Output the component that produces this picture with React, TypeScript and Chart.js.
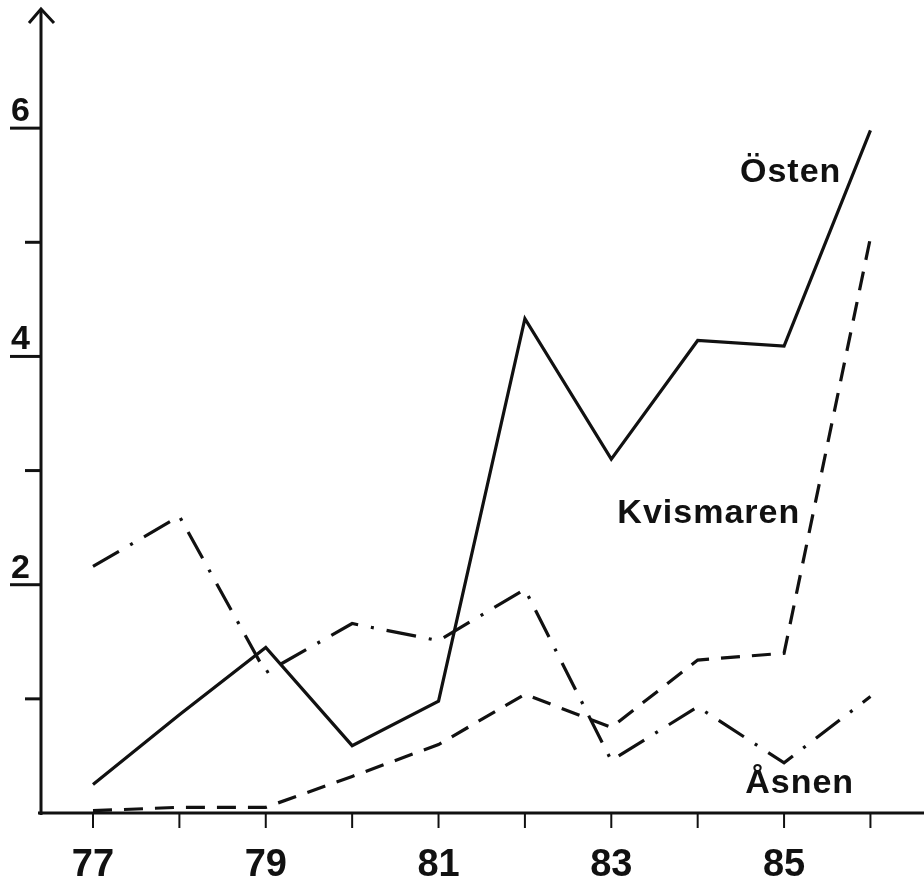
import { useEffect, useRef } from "react";
import { Chart, registerables } from "chart.js";

Chart.register(...registerables);

// ---- data ----
const years = [77, 78, 79, 80, 81, 82, 83, 84, 85, 86];
const osten = [0.25, 0.86, 1.45, 0.59, 0.98, 4.33, 3.1, 4.14, 4.09, 5.98];
const kvismaren = [0.02, 0.05, 0.05, 0.32, 0.6, 1.04, 0.75, 1.34, 1.4, 5.04];
const asnen = [2.16, 2.6, 1.23, 1.66, 1.51, 1.96, 0.46, 0.93, 0.44, 1.02];
const xTickLabels = [77, 79, 81, 83, 85];
const yMajorTicks = [2, 4, 6];
const yMinorTicks = [1, 3, 5];
const seriesNames = ["Östen", "Kvismaren", "Åsnen"];

const INK = "#111111";
const FONT = '"Liberation Sans", Arial, Helvetica, sans-serif';

const axesPlugin = {
  id: "handAxes",
  afterDraw(chart: any) {
    const { ctx, chartArea } = chart;
    const xs = chart.scales.x;
    const ys = chart.scales.y;
    const x0 = chartArea.left;
    const y0 = ys.getPixelForValue(0);
    ctx.save();
    ctx.strokeStyle = INK;
    ctx.fillStyle = INK;
    ctx.lineCap = "butt";

    // y axis with arrow
    ctx.lineWidth = 3;
    ctx.beginPath();
    ctx.moveTo(x0, y0 + 2);
    ctx.lineTo(x0, 9);
    ctx.stroke();
    ctx.beginPath();
    ctx.lineJoin = "miter";
    ctx.moveTo(x0 - 12, 23);
    ctx.lineTo(x0, 9);
    ctx.lineTo(x0 + 13, 23);
    ctx.stroke();

    // x axis
    ctx.beginPath();
    ctx.moveTo(x0 - 3, y0);
    ctx.lineTo(chartArea.right, y0);
    ctx.stroke();

    // x ticks
    ctx.lineWidth = 2;
    years.forEach((v) => {
      const px = xs.getPixelForValue(v);
      ctx.beginPath();
      ctx.moveTo(px, y0);
      ctx.lineTo(px, y0 + 15);
      ctx.stroke();
    });

    // x labels
    ctx.font = `bold 38px ${FONT}`;
    ctx.textAlign = "center";
    ctx.textBaseline = "alphabetic";
    xTickLabels.forEach((v) => {
      const px = xs.getPixelForValue(v);
      ctx.fillText(String(v), px, y0 + 63);
    });

    // y ticks
    ctx.lineWidth = 3;
    yMajorTicks.forEach((v) => {
      const py = ys.getPixelForValue(v);
      ctx.beginPath();
      ctx.moveTo(x0 - 31, py);
      ctx.lineTo(x0, py);
      ctx.stroke();
    });
    yMinorTicks.forEach((v) => {
      const py = ys.getPixelForValue(v);
      ctx.beginPath();
      ctx.moveTo(x0 - 16, py);
      ctx.lineTo(x0, py);
      ctx.stroke();
    });
    ctx.font = `bold 34px ${FONT}`;
    ctx.textAlign = "left";
    yMajorTicks.forEach((v) => {
      const py = ys.getPixelForValue(v);
      ctx.fillText(String(v), 11, py - 7);
    });

    // series labels (anchored in data coordinates)
    const anchors = [
      [84.49, 5.53],
      [83.07, 2.54],
      [84.55, 0.175],
    ];
    ctx.font = `bold 34px ${FONT}`;
    (ctx as any).letterSpacing = "1px";
    seriesNames.forEach((name, i) => {
      const [ax, ay] = anchors[i];
      ctx.fillText(name, xs.getPixelForValue(ax), ys.getPixelForValue(ay));
    });
    ctx.restore();
  },
};

export default function App() {
  const ref = useRef<HTMLCanvasElement | null>(null);

  useEffect(() => {
    document.body.style.margin = "0";
    const canvas = ref.current;
    if (!canvas) return;
    const mk = (label: string, data: number[], dash: number[]) => ({
      label,
      data: years.map((y, i) => ({ x: y, y: data[i] })),
      borderColor: INK,
      borderWidth: 3.2,
      borderDash: dash,
      borderCapStyle: "butt" as const,
      borderJoinStyle: "miter" as const,
      pointRadius: 0,
      tension: 0,
      fill: false,
      clip: false as any,
    });
    const chart = new Chart(canvas, {
      type: "line",
      data: {
        datasets: [
          mk(seriesNames[0], osten, []),
          mk(seriesNames[1], kvismaren, [19, 12]),
          mk(seriesNames[2], asnen, [30, 13, 3, 13]),
        ],
      },
      options: {
        responsive: false,
        animation: false,
        devicePixelRatio: 1,
        layout: { padding: { left: 41, right: 0, top: 14, bottom: 63 } },
        plugins: {
          legend: { display: false },
          tooltip: { enabled: false },
        },
        scales: {
          x: {
            type: "linear",
            min: 76.398,
            max: 86.62,
            display: false,
          },
          y: {
            type: "linear",
            min: 0,
            max: 7,
            display: false,
          },
        },
      },
      plugins: [axesPlugin],
    });
    return () => chart.destroy();
  }, []);

  return (
    <div style={{ width: 924, height: 876, background: "#fff" }}>
      <canvas ref={ref} width={924} height={876} style={{ width: 924, height: 876, display: "block" }} />
    </div>
  );
}
